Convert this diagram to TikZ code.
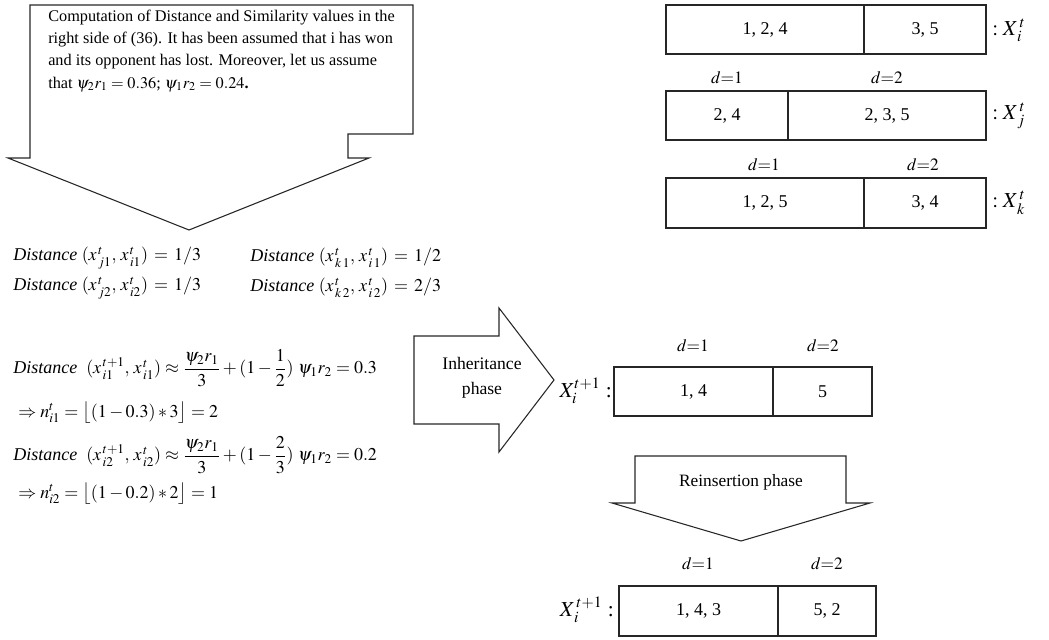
\documentclass[tikz,border=0pt]{standalone}
\usepackage{amsmath}
\usepackage{mathptmx}
\usepackage{fontspec}
\setmainfont{Liberation Serif}
\tikzset{
  shp/.style={draw=black!85, line width=0.8pt, line join=miter},
  cell/.style={draw=black!85, line width=0.8pt, inner sep=0pt, font=\fontsize{13.5}{15}\selectfont},
  lab/.style={inner sep=0pt, font=\fontsize{13}{15}\selectfont},
  xlab/.style={inner sep=0pt, font=\fontsize{16}{18}\selectfont},
  eq/.style={inner sep=0pt, anchor=west, font=\fontsize{13.5}{15}\selectfont},
}
\newcommand\mkcell[6]{%
  \node[cell, minimum width={(#4-#2)*0.75pt}, minimum height={(#5-#3)*0.75pt}] (#1) at ({(#2+#4)/2},{(#3+#5)/2}) {#6};}
\begin{document}
\begin{tikzpicture}[x=0.75pt,y=-0.75pt]
\useasboundingbox (0,0) rectangle (1049,639);
% callout
\draw[shp] (30,5) -- (413,5) -- (413,134) -- (348,134) -- (348,158) -- (369,158) -- (189,230) -- (8,158) -- (30,158) -- cycle;
\node[lab, anchor=north west, align=left, font=\fontsize{12.2}{16.6}\selectfont] (intro) at (48,10)
 {Computation of Distance and Similarity values in the\\
  right side of (36). It has been assumed that i has won\\
  and its opponent has lost. Moreover, let us assume\\
  that $\psi_2 r_1=0.36$; $\psi_1 r_2=0.24$\textbf{.}};
% top right boxes
\mkcell{ia}{666}{5}{864}{54}{1, 2, 4}
\mkcell{ib}{864}{5}{986}{54}{3, 5}
\node[xlab, anchor=west] (li) at (992,30) {$:X^{\,t}_{\,i}$};
\node[lab] (dj1) at (727,78) {$d{=}1$};
\node[lab] (dj2) at (887,78) {$d{=}2$};
\mkcell{ja}{666}{91}{788}{140}{2, 4}
\mkcell{jb}{788}{91}{986}{140}{2, 3, 5}
\node[xlab, anchor=west] (lj) at (992,116) {$:X^{\,t}_{\,j}$};
\node[lab] (dk1) at (764,165) {$d{=}1$};
\node[lab] (dk2) at (923,165) {$d{=}2$};
\mkcell{ka}{666}{178}{864}{228}{1, 2, 5}
\mkcell{kb}{864}{178}{986}{228}{3, 4}
\node[xlab, anchor=west] (lk) at (992,203) {$:X^{\,t}_{\,k}$};
% equations
\node[eq] (e1) at (13,258) {\textit{Distance} $(x^{\,t}_{\,j1},\, x^{\,t}_{\,i1})\, =\, 1/3$};
\node[eq] (e2) at (250,258) {\textit{Distance} $(x^{\,t}_{\,k\,1},\, x^{\,t}_{\,i\,1})\, =\, 1/2$};
\node[eq] (e3) at (13,288) {\textit{Distance} $(x^{\,t}_{\,j2},\, x^{\,t}_{\,i2})\, =\, 1/3$};
\node[eq] (e4) at (250,288) {\textit{Distance} $(x^{\,t}_{\,k\,2},\, x^{\,t}_{\,i\,2})\, =\, 2/3$};
\node[eq] (e5) at (13,368) {\textit{Distance}\ \ $(x^{\,t+1}_{\,i1},\, x^{\,t}_{\,i1}) \approx \dfrac{\psi_2 r_1}{3} + (1-\dfrac{1}{2})\ \psi_1 r_2 = 0.3$};
\node[eq] (e6) at (18,413) {$\Rightarrow n^{t}_{i1} = \big\lfloor (1-0.3)*3 \big\rfloor = 2$};
\node[eq] (e7) at (13,455) {\textit{Distance}\ \ $(x^{\,t+1}_{\,i2},\, x^{\,t}_{\,i2}) \approx \dfrac{\psi_2 r_1}{3} + (1-\dfrac{2}{3})\ \psi_1 r_2 = 0.2$};
\node[eq] (e8) at (18,494) {$\Rightarrow n^{t}_{i2} = \big\lfloor (1-0.2)*2 \big\rfloor = 1$};
% inheritance arrow
\draw[shp] (414,336) -- (499,336) -- (499,308) -- (554,380) -- (499,452) -- (499,424) -- (414,424) -- cycle;
\node[lab, align=center, font=\fontsize{13.2}{18.5}\selectfont] (inh) at (482,378) {Inheritance\\phase};
% new individual
\node[xlab, anchor=east] (ln) at (612,391) {$X^{t+1}_{i}$ :};
\node[lab] (dn1) at (693,346) {$d{=}1$};
\node[lab] (dn2) at (823,346) {$d{=}2$};
\mkcell{na}{614}{367}{773}{416}{1, 4}
\mkcell{nb}{773}{367}{872}{416}{5}
% reinsertion arrow
\draw[shp] (635,456) -- (846,456) -- (846,503) -- (870,503) -- (741,541) -- (612,503) -- (635,503) -- cycle;
\node[lab] (rein) at (741,482) {Reinsertion phase};
% final
\node[lab] (dr1) at (698,564) {$d{=}1$};
\node[lab] (dr2) at (827,564) {$d{=}2$};
\mkcell{ra}{619}{586}{778}{636}{1, 4, 3}
\mkcell{rb}{778}{586}{876}{636}{5, 2}
\node[xlab, anchor=east] (lr) at (614,610) {$X^{\,t+1}_{\,i}$ :};
\end{tikzpicture}
\end{document}
